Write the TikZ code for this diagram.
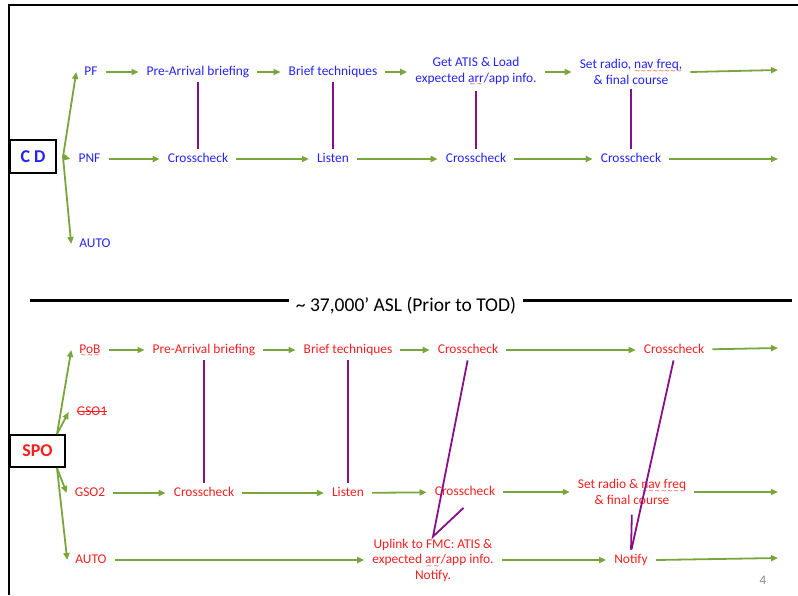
\documentclass[tikz,border=0pt]{standalone}
\usepackage{fontspec}
\setmainfont{Carlito}
\newfontfamily\wavefont{DejaVu Sans}
\usepackage{xcolor}
\usetikzlibrary{arrows.meta}

\definecolor{cdblue}{RGB}{35,35,250}
\definecolor{spored}{RGB}{250,30,30}
\definecolor{flowgreen}{RGB}{120,165,60}
\definecolor{linkpurple}{RGB}{135,15,135}
\definecolor{spellred}{RGB}{235,50,50}
\definecolor{pagegray}{RGB}{125,135,155}

% red wavy underline and strike-out
\newcommand{\squig}[1]{\leavevmode\setbox0\hbox{#1}\rlap{\raisebox{-4.5pt}{\textcolor{spellred}{\hbox to \wd0{\xleaders\hbox{\fontsize{7}{7}\wavefont ∼}\hfill}}}}\box0}
\newcommand{\strikeout}[1]{\leavevmode\setbox0\hbox{#1}\rlap{\rule[3.6pt]{\wd0}{0.9pt}}\box0}

\begin{document}
\begin{tikzpicture}[x=1pt, y=-1pt,
    txt/.style={inner xsep=8pt, inner ysep=2pt, font=\fontsize{13.4}{15.5}\selectfont},
    one/.style={txt, text height=9.5pt, text depth=3pt},
    many/.style={txt, align=center},
    cd/.style={text=cdblue},
    spo/.style={text=spored},
    role/.style={draw, fill=white, line width=1.6pt, inner sep=0pt, font=\fontsize{18}{20}\bfseries\selectfont},
    flow/.style={draw=flowgreen, line width=1.8pt, -{Triangle[length=7pt,width=6pt]}},
    link/.style={draw=linkpurple, line width=1.8pt, shorten <=2pt, shorten >=2pt}]
    \useasboundingbox (0,0) rectangle (798,595);
    % Frame
    \draw[line width=1.5pt] (9,595) -- (9,5) -- (798,5);

    % C D
    \node[role, text=cdblue, minimum width=46pt, minimum height=33pt] (cd) at (33,156.5) {C D};
    \coordinate (cdfork) at (63,157);
    \node[one, cd] (pf) at (91,72) {PF};
    \node[one, cd] (pnf) at (89.5,159) {PNF};
    \node[one, cd] (auto) at (95,244) {AUTO};
    \draw[flow] (cdfork) -- (pf.west);
    \draw[flow] (cdfork) -- (pnf.west);
    \draw[flow] (cdfork) -- (auto.west);

    \node[one, cd] (pab) at (198,72) {Pre-Arrival briefing};
    \node[one, cd] (btq) at (333,72) {Brief techniques};
    \node[many, cd] (atis) at (476,72) {Get ATIS \& Load\\expected \squig{arr}/app info.};
    \node[many, cd] (setr) at (631,72) {Set radio, \squig{nav freq,}\\\& final course};
    \coordinate (pfend) at (778,70);
    \draw[flow] (pf) -- (pab);
    \draw[flow] (pab) -- (btq);
    \draw[flow] (btq) -- (atis);
    \draw[flow] (atis) -- (setr);
    \draw[flow] (setr.east) -- (pfend);

    \node[one, cd] (cc1) at (198,159) {Crosscheck};
    \node[one, cd] (lis) at (333,159) {Listen};
    \node[one, cd] (cc2) at (476,159) {Crosscheck};
    \node[one, cd] (cc3) at (631,159) {Crosscheck};
    \coordinate (pnfend) at (778,159);
    \draw[flow] (pnf) -- (cc1);
    \draw[flow] (cc1) -- (lis);
    \draw[flow] (lis) -- (cc2);
    \draw[flow] (cc2) -- (cc3);
    \draw[flow] (cc3) -- (pnfend);

    \draw[link] (pab) -- (cc1);
    \draw[link] (btq) -- (lis);
    \draw[link] (atis) -- (cc2);
    \draw[link] (setr) -- (cc3);

    % Separator
    \node[inner xsep=7pt, font=\fontsize{19.5}{22}\selectfont] (tod) at (406,306) {\textasciitilde{} 37,000’ ASL (Prior to TOD)};
    \coordinate (sepl) at (30,300);
    \coordinate (sepr) at (792,300);
    \draw[line width=3pt] (sepl) -- (sepl -| tod.west);
    \draw[line width=3pt] (tod.east |- sepr) -- (sepr);

    % SPO
    \node[role, text=spored, minimum width=55pt, minimum height=32pt] (spo) at (37.5,451) {SPO};
    \coordinate (spofork) at (57,434);
    \coordinate (spofork2) at (57,468);
    \node[one, spo] (pob) at (90,350) {\squig{PoB}};
    \node[one, spo] (gso1) at (92,412) {\strikeout{GSO1}};
    \node[one, spo] (gso2) at (90,493) {GSO2};
    \node[one, spo] (auto2) at (91,560) {AUTO};
    \draw[flow] (spofork) -- (pob.west);
    \draw[flow] (spofork) -- (gso1.west);
    \draw[flow] (spofork2) -- (gso2.west);
    \draw[flow] (spofork2) -- (auto2.west);

    \node[one, spo] (pab2) at (204,350) {Pre-Arrival briefing};
    \node[one, spo] (btq2) at (348,350) {Brief techniques};
    \node[one, spo] (xc1) at (468,350) {Crosscheck};
    \node[one, spo] (xc2) at (674,350) {Crosscheck};
    \coordinate (pobend) at (778,348);
    \draw[flow] (pob) -- (pab2);
    \draw[flow] (pab2) -- (btq2);
    \draw[flow] (btq2) -- (xc1);
    \draw[flow] (xc1) -- (xc2);
    \draw[flow] (xc2) -- (pobend);

    \node[one, spo] (cc4) at (204,493) {Crosscheck};
    \node[one, spo] (lis2) at (348,493) {Listen};
    \node[one, spo] (cc5) at (465,492) {Crosscheck};
    \node[many, spo] (setr2) at (632,492) {Set radio \& \squig{nav freq}\\\& final course};
    \coordinate (gsoend) at (778,492);
    \draw[flow] (gso2) -- (cc4);
    \draw[flow] (cc4) -- (lis2);
    \draw[flow] (lis2) -- (cc5);
    \draw[flow] (cc5) -- (setr2);
    \draw[flow] (setr2.east) -- (gsoend);

    \node[many, spo] (upl) at (433,560) {Uplink to FMC: ATIS \&\\expected \squig{arr}/app info.\\Notify.};
    \node[one, spo] (ntf) at (631,560) {Notify};
    \coordinate (autoend) at (778,558);
    \draw[flow] (auto2) -- (upl);
    \draw[flow] (upl) -- (ntf);
    \draw[flow] (ntf.east) -- (autoend);

    \draw[link] (pab2) -- (cc4);
    \draw[link] (btq2) -- (lis2);
    \draw[link] (xc1.south) -- (upl.north) -- ([yshift=-6pt]cc5.south);
    \draw[link] (xc2.south) -- (ntf.north);
    \draw[link, shorten <=8pt] (setr2.south) -- (ntf.north);

    \node[text=pagegray, font=\fontsize{13}{15}\selectfont] (pagenum) at (763,580) {4};
\end{tikzpicture}
\end{document}
